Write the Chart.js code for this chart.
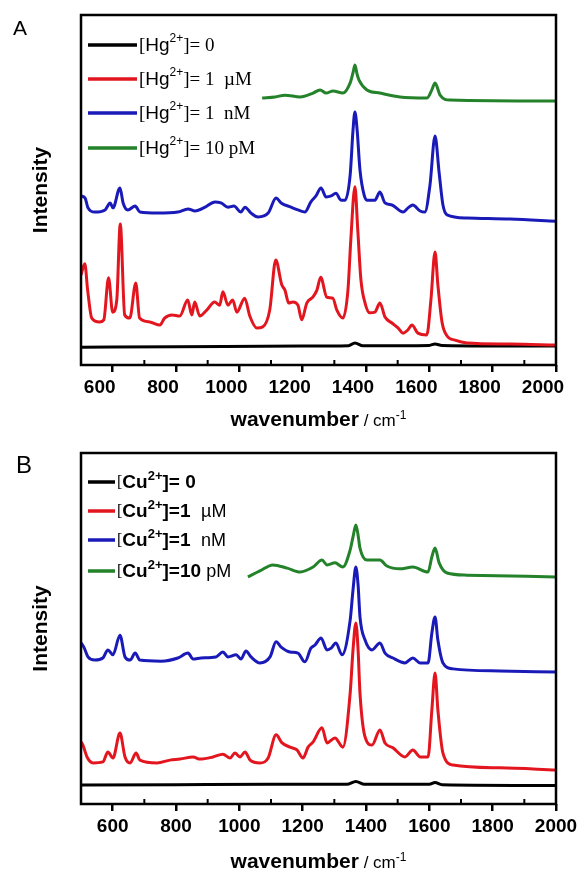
<!DOCTYPE html>
<html>
<head>
<meta charset="utf-8">
<script src="https://cdn.jsdelivr.net/npm/chart.js@4.4.1/dist/chart.umd.min.js"></script>
<style>
  html, body { margin: 0; padding: 0; background: #fff; }
  canvas { display: block; }
</style>
</head>
<body>
<canvas id="chartA" width="584" height="440"></canvas>
<canvas id="chartB" width="584" height="437"></canvas>
<script>
// wavenumber axis (cm-1)
const xTicks = [600, 800, 1000, 1200, 1400, 1600, 1800, 2000];
const xMinor = [700, 900, 1100, 1300, 1500, 1700, 1900];

// Panel A: [Hg2+] series, [wavenumber, intensity (a.u., offset)]
const hgBlack = [[500,5.1],[800,5.2],[1200,5.4],[1345,5.5],[1365,6.3],[1390,5.5],[1600,5.6],[1618,6.0],[1640,5.6],[2000,5.4]];
const hgRed = [[500,25.7],[512,28.9],[521,21.4],[534,13.4],[559,12.3],[572,12.9],[587,24.9],[600,15.1],[613,18.6],[624,40.3],
  [638,14.3],[654,13.4],[673,23.4],[685,13.4],[717,12.3],[749,11.4],[764,13.4],[787,14.3],[812,14],[837,18.6],
  [850,14.3],[859,18],[875,14],[897,15.7],[922,18],[938,17.1],[948,20.9],[964,17.1],[979,18.6],[992,15.1],
  [1017,19.1],[1033,14],[1055,10.6],[1074,10.9],[1096,15.7],[1115,30],[1134,22.9],[1144,21.4],[1156,17.7],[1169,18],
  [1185,17.1],[1197,12.9],[1213,17.7],[1232,19.4],[1245,21.4],[1257,25.1],[1276,19.4],[1295,19.1],[1308,15.7],[1327,13.4],
  [1343,21.4],[1352,35.7],[1365,50.9],[1374,38.6],[1384,24.3],[1397,17.7],[1412,14.9],[1428,15.1],[1444,17.7],[1460,13.7],
  [1482,12],[1501,10.6],[1517,9.1],[1532,10],[1545,11.4],[1564,9.1],[1592,8.6],[1605,18.6],[1618,32.3],[1627,22.9],
  [1640,12.3],[1656,8.3],[1681,7.1],[1719,6.3],[1855,6],[2000,5.7]];
const hgBlue = [[500,48.3],[513,47.7],[522,44.9],[544,43.7],[576,44.3],[592,46.3],[601,44.9],[623,50.6],[633,46.3],[648,44.3],
  [671,45.4],[686,43.7],[743,43.4],[806,43.7],[838,44.6],[860,44],[892,45.1],[923,46.6],[942,46.3],[964,45.1],
  [983,45.4],[1005,43.7],[1018,45.1],[1037,43.4],[1059,42.3],[1091,43.4],[1116,47.7],[1132,46.3],[1163,45.1],[1185,44.3],
  [1207,43.7],[1226,46.6],[1242,48.3],[1258,50.6],[1274,48],[1290,48.3],[1305,49.1],[1321,47.1],[1334,47.1],[1350,54.3],
  [1359,67.1],[1365,72.3],[1372,67.1],[1381,55.7],[1394,48.6],[1403,47.1],[1428,47.1],[1444,49.4],[1460,46.3],[1482,45.7],
  [1517,43.7],[1533,44.9],[1548,45.7],[1571,44],[1586,43.7],[1602,51.4],[1618,65.4],[1631,54.9],[1643,45.7],[1656,42.9],
  [1719,42],[1855,41.7],[2000,41.1]];
const hgGreen = [[1072,76.3],[1113,76.6],[1144,77.1],[1192,76.6],[1233,77.7],[1255,78.6],[1274,77.7],[1296,78.3],[1327,77.7],[1350,80.6],
  [1359,83.5],[1365,85.7],[1372,83],[1378,81.4],[1403,78.6],[1444,77.7],[1507,76.6],[1593,76.3],[1608,78.6],[1618,80.6],
  [1634,77.1],[1665,75.7],[2000,75.4]];

// Panel B: [Cu2+] series
const cuBlack = [[500,5.4],[800,5.5],[1100,5.6],[1340,5.6],[1368,6.4],[1395,5.6],[1600,5.6],[1618,6.1],[1640,5.5],[2000,5.3]];
const cuRed = [[500,17.7],[506,16.8],[519,13.4],[538,11.7],[569,12],[585,14.8],[601,13.1],[623,20.2],[639,13.4],[655,11.7],
  [674,14.5],[686,12.5],[740,11.7],[781,12.5],[813,12.8],[854,13.4],[876,12.8],[917,13.4],[948,14.2],[971,13.1],
  [986,14.5],[1002,13.4],[1018,14.8],[1034,12.5],[1065,11.7],[1091,13.1],[1116,19.7],[1135,17.4],[1160,16.2],[1182,15.4],
  [1201,13.1],[1217,16.2],[1233,17.7],[1261,21.7],[1277,17.4],[1302,18.8],[1327,16.2],[1350,31.6],[1359,43.9],[1368,51.6],
  [1375,43.9],[1381,31.6],[1397,19.1],[1419,16.8],[1444,21.1],[1460,17.4],[1485,16],[1523,13.4],[1548,15.4],[1571,13.4],
  [1596,13.4],[1608,26.8],[1618,37.3],[1627,26.8],[1643,14.5],[1675,11.1],[1823,10.3],[2000,9.7]];
const cuBlue = [[500,45.9],[509,44.7],[522,41.9],[544,41],[569,41.6],[585,43.9],[601,42.5],[623,48.1],[639,41.9],[655,41],
  [671,43],[686,41],[753,40.7],[806,41.6],[838,43],[854,41.3],[879,41.6],[926,41.9],[948,43.3],[964,41.9],
  [990,42.5],[1005,41.3],[1021,43.6],[1037,41.9],[1065,40.2],[1097,41.9],[1116,46.2],[1132,44.7],[1160,43.3],[1185,43],
  [1207,40.5],[1226,44.4],[1239,45.3],[1258,47.3],[1277,43.9],[1290,44.4],[1305,45.9],[1324,42.5],[1350,52.4],[1359,61],
  [1368,67.5],[1375,62.4],[1381,53.3],[1397,46.7],[1419,43.9],[1444,45.9],[1460,43],[1485,41.6],[1523,40.2],[1548,41.6],
  [1571,40.2],[1596,40.2],[1608,48.7],[1618,53.3],[1627,46.7],[1643,40.2],[1675,38.5],[1823,37.9],[2000,37.6]];
const cuGreen = [[1027,64.7],[1065,66.4],[1106,68.1],[1151,67.2],[1192,66.1],[1233,67.5],[1261,69.5],[1277,68.1],[1302,68.7],[1327,67.5],
  [1350,72.4],[1359,76.1],[1368,79.5],[1375,76.6],[1381,72.9],[1403,69.5],[1444,69.5],[1466,67.8],[1507,67],[1548,67.5],
  [1596,66.1],[1608,70.4],[1618,72.9],[1631,68.7],[1656,65.8],[1719,65.2],[2000,64.7]];

// legend text
const hgValue = ['= 0', '= 1  ', '= 1  ', '= 10 '];
const hgUnit = ['', 'µM', 'nM', 'pM'];
const cuValue = ['= 0', '=1  ', '=1  ', '=10 '];
const cuUnit = ['', 'µM', 'nM', 'pM'];

const colors = ['#000000', '#e3161f', '#1a1ab8', '#23822a'];
const SANS = '"Liberation Sans", Arial, sans-serif';
const SERIF = '"Liberation Serif", "Times New Roman", serif';

function toXY(pairs) {
  return pairs.map(([x, y]) => ({ x: x, y: y }));
}

function makeDatasets(series, labels) {
  // red drawn on top, black at the bottom
  const order = [3, 0, 1, 2];
  return series.map((s, i) => ({
    label: labels[i],
    data: toXY(s),
    borderColor: colors[i],
    borderWidth: 3,
    order: order[i],
  }));
}

function drawRuns(ctx, runs, x, y) {
  runs.forEach(r => {
    ctx.font = r.font;
    ctx.fillText(r.text, x, r.sup ? y - 7 : y);
    x += ctx.measureText(r.text).width;
  });
}

function runsWidth(ctx, runs) {
  let w = 0;
  runs.forEach(r => { ctx.font = r.font; w += ctx.measureText(r.text).width; });
  return w;
}

const panelDecor = {
  id: 'panelDecor',
  afterDatasetsDraw(chart, args, opts) {
    const { ctx, chartArea: a } = chart;
    const x = chart.scales.x;
    ctx.save();
    ctx.strokeStyle = '#000';
    ctx.fillStyle = '#000';
    // frame
    ctx.lineWidth = 2.5;
    ctx.strokeRect(a.left, a.top, a.right - a.left, a.bottom - a.top);
    // minor ticks, pointing in
    ctx.lineWidth = 2;
    xMinor.forEach(v => {
      const px = x.getPixelForValue(v);
      ctx.beginPath();
      ctx.moveTo(px, a.bottom);
      ctx.lineTo(px, a.bottom - 5);
      ctx.stroke();
    });
    // panel letter
    ctx.textBaseline = 'alphabetic';
    ctx.textAlign = 'left';
    ctx.font = opts.letterFont;
    ctx.fillText(opts.letter, opts.letterX, opts.letterY);
    // legend
    opts.rows.forEach((runs, i) => {
      const y = opts.rowY[i];
      ctx.strokeStyle = colors[i];
      ctx.lineWidth = 3.5;
      ctx.beginPath();
      ctx.moveTo(opts.lineX0, y);
      ctx.lineTo(opts.lineX1, y);
      ctx.stroke();
      ctx.textBaseline = 'middle';
      drawRuns(ctx, runs, opts.lineX1 + 2, y + 1);
    });
    // x axis title
    const title = [
      { text: 'wavenumber', font: 'bold 21px ' + SANS },
      { text: ' / cm', font: '17px ' + SANS },
      { text: '-1', font: '12px ' + SANS, sup: true },
    ];
    ctx.textBaseline = 'alphabetic';
    const w = runsWidth(ctx, title);
    drawRuns(ctx, title, (a.left + a.right) / 2 - w / 2, opts.titleY);
    ctx.restore();
  }
};

function hgRuns(i) {
  return [
    { text: '[', font: '19px ' + SERIF },
    { text: 'Hg', font: '19px ' + SANS },
    { text: '2+', font: '12px ' + SANS, sup: true },
    { text: ']' + hgValue[i], font: '19px ' + SERIF },
    { text: hgUnit[i], font: '19px ' + SERIF },
  ];
}

function cuRuns(i) {
  return [
    { text: '[', font: '16px ' + SERIF },
    { text: 'Cu', font: 'bold 19px ' + SANS },
    { text: '2+', font: 'bold 13px ' + SANS, sup: true },
    { text: ']' + cuValue[i], font: 'bold 19px ' + SANS },
    { text: cuUnit[i], font: '18px ' + SANS },
  ];
}

function buildChart(id, datasets, decor) {
  return new Chart(document.getElementById(id), {
    type: 'line',
    data: { datasets: datasets },
    options: {
      responsive: false,
      animation: false,
      devicePixelRatio: 1,
      parsing: true,
      layout: { padding: { left: 0, right: 28, top: decor.top, bottom: 0 } },
      elements: {
        point: { radius: 0 },
        line: { cubicInterpolationMode: 'monotone' },
      },
      plugins: {
        legend: { display: false },
        tooltip: { enabled: false },
        panelDecor: decor,
      },
      scales: {
        x: {
          type: 'linear',
          min: 500,
          max: 2000,
          afterBuildTicks: s => { s.ticks = xTicks.map(v => ({ value: v })); },
          afterFit: s => { s.height = decor.xAxisHeight; },
          border: { display: false },
          grid: { drawOnChartArea: false, color: '#000', lineWidth: 2.5, tickLength: 7 },
          ticks: {
            color: '#000',
            font: { family: SANS, size: 19, weight: 'bold' },
            padding: 4,
            labelOffset: decor.labelOffset,
            maxRotation: 0,
            autoSkip: false,
            callback: v => String(v),
          },
        },
        y: {
          min: 0,
          max: 100,
          afterFit: s => { s.width = 81; },
          border: { display: false },
          grid: { display: false },
          ticks: { display: false },
          title: {
            display: true,
            text: 'Intensity',
            color: '#000',
            font: { family: SANS, size: 21, weight: 'bold' },
            padding: { top: 29, bottom: 0 },
          },
        },
      },
    },
    plugins: [panelDecor],
  });
}

buildChart('chartA',
  makeDatasets([hgBlack, hgRed, hgBlue, hgGreen],
    ['[Hg²⁺]= 0', '[Hg²⁺]= 1 µM', '[Hg²⁺]= 1 nM', '[Hg²⁺]= 10 pM']),
  {
    top: 15, xAxisHeight: 75, labelOffset: -13, titleY: 426,
    letter: 'A', letterFont: '21px ' + SANS, letterX: 13, letterY: 35,
    lineX0: 88, lineX1: 137, rowY: [45, 79, 113, 148],
    rows: [0, 1, 2, 3].map(hgRuns),
  });

buildChart('chartB',
  makeDatasets([cuBlack, cuRed, cuBlue, cuGreen],
    ['[Cu²⁺]= 0', '[Cu²⁺]=1 µM', '[Cu²⁺]=1 nM', '[Cu²⁺]=10 pM']),
  {
    top: 13, xAxisHeight: 73, labelOffset: 0, titleY: 428,
    letter: 'B', letterFont: '24px ' + SANS, letterX: 16, letterY: 33,
    lineX0: 88, lineX1: 115, rowY: [42, 71, 100, 131],
    rows: [0, 1, 2, 3].map(cuRuns),
  });
</script>
</body>
</html>
